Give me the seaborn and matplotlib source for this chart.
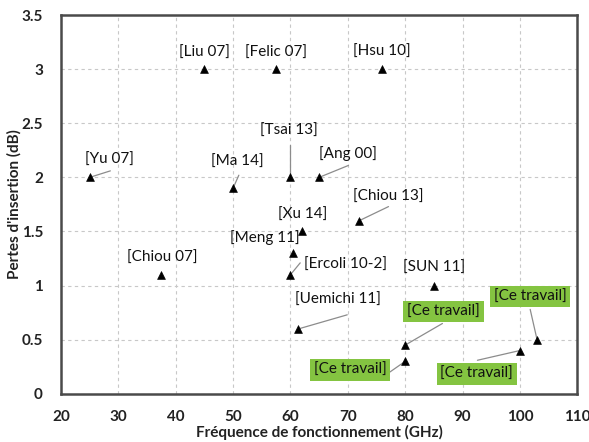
import seaborn as sns
import matplotlib.pyplot as plt
import pandas as pd

# points (frequency GHz, insertion loss dB)
refs = ["[Liu 07]", "[Felic 07]", "[Hsu 10]", "[Yu 07]", "[Ma 14]", "[Tsai 13]", "[Ang 00]",
        "[Chiou 13]", "[Xu 14]", "[Meng 11]", "[Ercoli 10-2]", "[Chiou 07]", "[Uemichi 11]",
        "[SUN 11]", "[Ce travail]", "[Ce travail]", "[Ce travail]", "[Ce travail]"]
freq = [45, 57.5, 76, 25, 50, 60, 65, 72, 62, 60.5, 60, 37.5, 61.4, 85, 80, 80, 100, 103]
loss = [3, 3, 3, 2, 1.9, 2, 2, 1.6, 1.5, 1.3, 1.1, 1.1, 0.6, 1.0, 0.45, 0.3, 0.4, 0.5]

# where each label text sits, and whether a leader line is drawn
label_x = [45, 57.4, 76, 28.4, 50.8, 59.8, 70, 77, 62.1, 55.6, 69.6, 37.6, 68.2, 85, 86.7, 70.4, 92.5, 101.8]
label_y = [3.15, 3.15, 3.16, 2.16, 2.14, 2.43, 2.22, 1.82, 1.65, 1.44, 1.19, 1.26, 0.87, 1.16, 0.76, 0.22, 0.18, 0.9]
line_end_x = [None, None, None, 28.6, 51, 60, 70.1, 77.1, None, None, 61.7, None, 69.9, None, 86.5, 77.3, 92.6, 101.8]
line_end_y = [None, None, None, 2.06, 2.02, 2.3, 2.11, 1.73, None, None, 1.21, None, 0.73, None, 0.65, 0.2, 0.31, 0.78]

df = pd.DataFrame({"freq": freq, "loss": loss})

sns.set_style("white")
plt.rcParams['font.family'] = ['Lato', 'DejaVu Sans']

fig = plt.figure(figsize=(5.89, 4.42), dpi=100)
ax = fig.add_axes([0.1036, 0.109, 0.8764, 0.857])

sns.scatterplot(data=df, x="freq", y="loss", marker="^", color="black", s=32, edgecolor="black", ax=ax, zorder=3)

green = "#84c441"
for i in range(len(refs)):
    if line_end_x[i] is not None:
        ax.plot([freq[i], line_end_x[i]], [loss[i], line_end_y[i]], color="#8c8c8c", lw=0.9, zorder=2)
    if refs[i] == "[Ce travail]":
        ax.text(label_x[i], label_y[i], refs[i], ha="center", va="center", fontsize=11,
                color="#111111", zorder=4,
                bbox=dict(boxstyle="square,pad=0.25", facecolor=green, edgecolor="none"))
    else:
        ax.text(label_x[i], label_y[i], refs[i], ha="center", va="center", fontsize=11,
                color="#111111", zorder=4)

ax.set_xlim(20, 110)
ax.set_ylim(0, 3.5)
ax.set_xticks(range(20, 111, 10))
ax.set_yticks([0, 0.5, 1, 1.5, 2, 2.5, 3, 3.5])
ax.set_yticklabels(["0", "0.5", "1", "1.5", "2", "2.5", "3", "3.5"])
ax.grid(True, linestyle=(0, (3, 3)), color="#c8c8c8", lw=0.8)
for sp in ax.spines.values():
    sp.set_color("#4a4a4a")
    sp.set_linewidth(1.8)
ax.tick_params(axis="x", length=0, pad=12, labelsize=11)
ax.tick_params(axis="y", length=0, pad=13, labelsize=11)
for t in ax.get_xticklabels() + ax.get_yticklabels():
    t.set_fontweight("bold")
    t.set_color("#222222")
ax.set_xlabel("Fréquence de fonctionnement (GHz)", fontsize=11, fontweight="bold", color="#222222", labelpad=0)
ax.set_ylabel("Pertes d'insertion (dB)", fontsize=11, fontweight="bold", color="#222222", labelpad=0)

fig.savefig("out.png", dpi=100)
